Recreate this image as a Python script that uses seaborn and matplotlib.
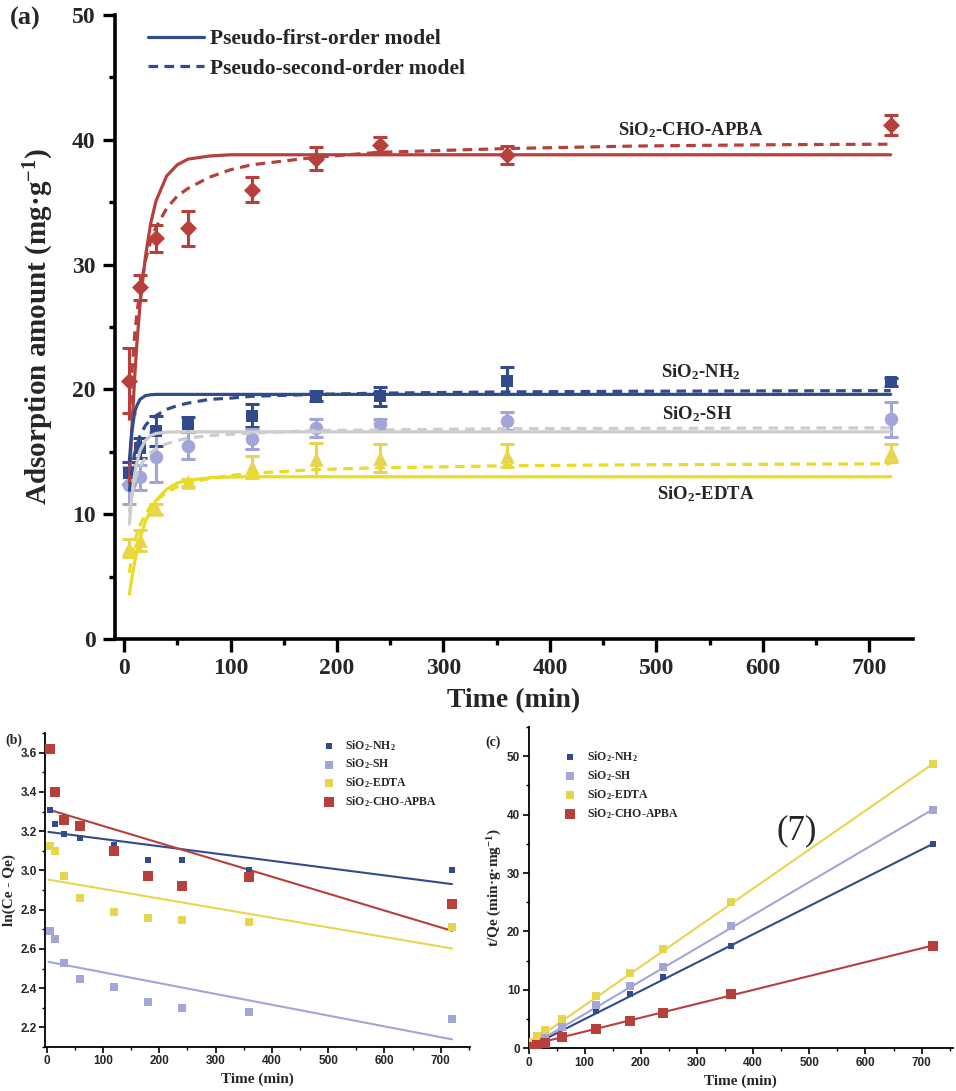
import pandas as pd
import seaborn as sns
import matplotlib.pyplot as plt
from matplotlib.lines import Line2D
from matplotlib.ticker import MultipleLocator

# ---------------- (a) adsorption kinetics ----------------
t_exp = [5, 15, 30, 60, 120, 180, 240, 360, 720]
q_nh2 = [13.3, 15.3, 16.7, 17.2, 17.9, 19.5, 19.45, 20.7, 20.6]
e_nh2 = [0.9, 0.8, 1.2, 0.6, 0.9, 0.4, 0.75, 1.1, 0.3]
q_sh = [12.3, 12.95, 14.6, 15.5, 16.0, 16.9, 17.2, 17.45, 17.6]
e_sh = [1.5, 1.0, 2.0, 1.1, 0.8, 0.7, 0.45, 0.7, 1.4]
q_edta = [7.3, 7.9, 10.4, 12.55, 13.8, 14.4, 14.5, 14.7, 14.9]
e_edta = [0.7, 0.85, 0.4, 0.3, 0.9, 1.3, 1.15, 0.9, 0.75]
q_apba = [20.7, 28.2, 32.1, 32.9, 36.0, 38.5, 39.6, 38.8, 41.2]
e_apba = [2.6, 1.0, 1.1, 1.4, 1.0, 0.9, 0.6, 0.7, 0.8]

# model curves
t_fit = [5, 7, 10, 12, 15, 20, 25, 30, 40, 50, 60, 80, 100, 120, 180, 240, 360, 480, 600, 720]
pfo_apba = [12.5, 16.3, 21.0, 23.6, 26.8, 30.6, 33.3, 35.1, 37.1, 38.0, 38.45, 38.7, 38.8, 38.8,
            38.8, 38.8, 38.8, 38.8, 38.8, 38.8]
pso_apba = [17.5, 20.9, 24.4, 26.0, 28.0, 30.3, 31.9, 33.0, 34.5, 35.5, 36.1, 37.0, 37.6, 38.0,
            38.6, 39.0, 39.3, 39.5, 39.6, 39.65]
pfo_nh2 = [14.3, 16.4, 18.2, 18.7, 19.2, 19.5, 19.57, 19.6, 19.6, 19.6, 19.6, 19.6, 19.6, 19.6,
           19.6, 19.6, 19.6, 19.6, 19.6, 19.6]
pso_nh2 = [11.8, 13.4, 14.9, 15.5, 16.3, 17.1, 17.6, 17.9, 18.4, 18.7, 18.9, 19.2, 19.3, 19.45,
           19.6, 19.7, 19.8, 19.85, 19.88, 19.9]
pfo_sh = [9.2, 11.2, 13.25, 14.1, 15.1, 15.9, 16.3, 16.47, 16.57, 16.6, 16.6, 16.6, 16.6, 16.6,
          16.6, 16.6, 16.6, 16.6, 16.6, 16.6]
pso_sh = [10.1, 11.4, 12.65, 13.2, 13.8, 14.5, 14.95, 15.25, 15.65, 15.9, 16.1, 16.3, 16.4, 16.5,
          16.7, 16.75, 16.85, 16.88, 16.9, 16.92]
pfo_edta = [3.6, 4.7, 6.15, 7.0, 8.0, 9.4, 10.3, 11.1, 12.0, 12.5, 12.7, 12.92, 12.98, 13.0,
            13.0, 13.0, 13.0, 13.0, 13.0, 13.0]
pso_edta = [5.3, 6.5, 7.75, 8.4, 9.1, 10.0, 10.65, 11.1, 11.75, 12.2, 12.47, 12.86, 13.1, 13.28,
            13.57, 13.72, 13.88, 13.96, 14.0, 14.04]

# ---------------- (b) pseudo-first-order linear fit ----------------
t_lin = [5, 15, 30, 60, 120, 180, 240, 360, 720]
ln_nh2 = [3.31, 3.235, 3.184, 3.167, 3.128, 3.052, 3.052, 3.0, 3.0]
ln_sh = [2.692, 2.648, 2.529, 2.449, 2.404, 2.327, 2.298, 2.276, 2.244]
ln_edta = [3.125, 3.098, 2.970, 2.860, 2.789, 2.758, 2.746, 2.735, 2.712]
ln_apba = [3.620, 3.400, 3.259, 3.227, 3.098, 2.970, 2.921, 2.967, 2.828]
t_line = [3, 720]
ln_fit_nh2 = [3.196, 2.930]
ln_fit_sh = [2.534, 2.139]
ln_fit_edta = [2.953, 2.602]
ln_fit_apba = [3.310, 2.692]

# ---------------- (c) pseudo-second-order linear fit ----------------
tq_nh2 = [0.4, 1.0, 1.8, 3.43, 6.46, 9.26, 12.29, 17.54, 34.97]
tq_sh = [0.7, 1.4, 2.3, 3.7, 7.43, 10.7, 14.0, 20.86, 40.86]
tq_edta = [1.14, 2.1, 3.1, 5.0, 8.97, 12.97, 16.97, 24.97, 48.7]
tq_apba = [0.3, 0.57, 0.97, 1.89, 3.26, 4.69, 6.11, 9.31, 17.54]
t_line_c = [5, 720]
tq_fit_nh2 = [0.4, 35.0]
tq_fit_sh = [0.5, 40.9]
tq_fit_edta = [1.0, 48.7]
tq_fit_apba = [0.6, 17.6]

names = ["SiO$_2$-NH$_2$", "SiO$_2$-SH", "SiO$_2$-EDTA", "SiO$_2$-CHO-APBA"]

sns.set_theme(style="ticks")
plt.rcParams["font.family"] = ["Liberation Serif", "DejaVu Serif"]
plt.rcParams["font.weight"] = "bold"
plt.rcParams["axes.labelweight"] = "bold"
plt.rcParams["mathtext.fontset"] = "custom"
plt.rcParams["mathtext.rm"] = "Liberation Serif:bold"
plt.rcParams["mathtext.it"] = "Liberation Serif:italic:bold"
plt.rcParams["mathtext.bf"] = "Liberation Serif:bold"

BLUE, PURPLE, YELLOW, RED = "#314B8C", "#A2A5D8", "#E8D54E", "#B8403C"
GREY, YLINE = "#CDCDCD", "#EADB24"

fig = plt.figure(figsize=(9.56, 10.91), dpi=100)

# ======================= panel (a) =======================
ax = fig.add_axes([115 / 956, 1 - 639 / 1091, 798 / 956, 624 / 1091])

series = [
    (q_nh2, e_nh2, BLUE, "s", 70),
    (q_sh, e_sh, PURPLE, "o", 95),
    (q_edta, e_edta, YELLOW, "^", 110),
    (q_apba, e_apba, RED, "D", 75),
]
for q, e, c, m, s in series:
    ax.errorbar(t_exp, q, yerr=e, fmt="none", ecolor=c, elinewidth=2.2,
                capsize=5, capthick=2.2, zorder=2)
    sns.scatterplot(x=t_exp, y=q, color=c, marker=m, s=s, linewidth=0, ax=ax,
                    zorder=3, legend=False)

fits = [
    (pfo_apba, pso_apba, RED),
    (pfo_nh2, pso_nh2, BLUE),
    (pfo_sh, pso_sh, GREY),
    (pfo_edta, pso_edta, YLINE),
]
for pfo, pso, c in fits:
    sns.lineplot(x=t_fit, y=pfo, color=c, lw=2.3, ax=ax, zorder=4, legend=False)
    sns.lineplot(x=t_fit, y=pso, color=c, lw=2.3, ax=ax, zorder=4, legend=False,
                 linestyle=(0, (3, 2)))

ax.set_xlim(-8.5, 741)
ax.set_ylim(0, 50)
ax.xaxis.set_major_locator(MultipleLocator(100))
ax.xaxis.set_minor_locator(MultipleLocator(50))
ax.yaxis.set_major_locator(MultipleLocator(10))
ax.yaxis.set_minor_locator(MultipleLocator(5))
ax.tick_params(which="major", length=9, width=2.4, labelsize=17, pad=5, color="black")
ax.tick_params(which="minor", length=4.5, width=2.4, color="black")
for side in ["top", "right"]:
    ax.spines[side].set_visible(False)
for side in ["left", "bottom"]:
    ax.spines[side].set_linewidth(2.6)
    ax.spines[side].set_color("black")
ax.set_xlabel("Time (min)", fontsize=20)
ax.set_ylabel("Adsorption amount (mg·g$^{-1}$)", fontsize=21)
ax.yaxis.set_label_coords(-0.074, 0.5)
ax.xaxis.set_label_coords(0.5, -0.079)

ax.text(532, 40.8, names[3], fontsize=13.5, ha="center", va="center")
ax.text(542, 21.35, names[0], fontsize=13.5, ha="center", va="center")
ax.text(538, 18.05, names[1], fontsize=13.5, ha="center", va="center")
ax.text(546, 11.6, names[2], fontsize=13.5, ha="center", va="center")

handles = [Line2D([], [], color=BLUE, lw=2.3),
           Line2D([], [], color=BLUE, lw=2.3, linestyle=(0, (3, 2)))]
ax.legend(handles, ["Pseudo-first-order model", "Pseudo-second-order model"],
          loc="upper left", bbox_to_anchor=(0.041, 0.977), frameon=False,
          fontsize=15.5, handlelength=2.6, handletextpad=0.3, labelspacing=0.44,
          borderpad=0, borderaxespad=0)
fig.text(10 / 956, 1 - 18 / 1091, "(a)", fontsize=19, va="center", ha="left")


def style_small(a):
    for side in ["top", "right"]:
        a.spines[side].set_visible(False)
    for side in ["left", "bottom"]:
        a.spines[side].set_linewidth(1.3)
        a.spines[side].set_color("black")
    a.tick_params(which="major", length=4, width=1.2, labelsize=8.5, pad=2, color="black")
    a.tick_params(which="minor", length=2.2, width=1.0, color="black")
    for lab in a.get_xticklabels() + a.get_yticklabels():
        lab.set_fontfamily("Liberation Sans")
        lab.set_fontweight("bold")


colors = [BLUE, PURPLE, YELLOW, RED]
sizes = [22, 30, 38, 48]

# ======================= panel (b) =======================
axb = fig.add_axes([45 / 956, 1 - 1047 / 1091, 425 / 956, 314 / 1091])
for ys, fy, c, s, n in zip([ln_nh2, ln_sh, ln_edta, ln_apba],
                           [ln_fit_nh2, ln_fit_sh, ln_fit_edta, ln_fit_apba],
                           colors, sizes, names):
    sns.lineplot(x=t_line, y=fy, color=c, lw=1.5, ax=axb, legend=False, zorder=2)
    sns.scatterplot(x=t_lin, y=ys, color=c, marker="s", s=s, linewidth=0, ax=axb,
                    label=n, zorder=3)
axb.set_xlim(-3, 752)
axb.set_ylim(2.1, 3.7)
axb.xaxis.set_major_locator(MultipleLocator(100))
axb.xaxis.set_minor_locator(MultipleLocator(50))
axb.yaxis.set_major_locator(MultipleLocator(0.2))
axb.yaxis.set_minor_locator(MultipleLocator(0.1))
axb.yaxis.set_major_formatter(plt.FormatStrFormatter("%.1f"))
style_small(axb)
axb.set_xlabel("Time (min)", fontsize=11, labelpad=4)
axb.set_ylabel("ln(Ce - Qe)", fontsize=11, labelpad=3)
axb.legend(loc="upper left", bbox_to_anchor=(0.64, 0.985), frameon=False, fontsize=8.5,
           handletextpad=0.4, labelspacing=0.35, borderpad=0, borderaxespad=0)
fig.text(5 / 956, 1 - 740 / 1091, "(b)", fontsize=10, va="center", ha="left")

# ======================= panel (c) =======================
axc = fig.add_axes([528.5 / 956, 1 - 1048.3 / 1091, 424 / 956, 321.3 / 1091])
for ys, fy, c, s, n in zip([tq_nh2, tq_sh, tq_edta, tq_apba],
                           [tq_fit_nh2, tq_fit_sh, tq_fit_edta, tq_fit_apba],
                           colors, sizes, names):
    sns.lineplot(x=t_line_c, y=fy, color=c, lw=1.5, ax=axc, legend=False, zorder=2)
    sns.scatterplot(x=t_lin, y=ys, color=c, marker="s", s=s, linewidth=0, ax=axc,
                    label=n, zorder=3)
axc.set_xlim(0, 755)
axc.set_ylim(0, 55)
axc.xaxis.set_major_locator(MultipleLocator(100))
axc.xaxis.set_minor_locator(MultipleLocator(50))
axc.yaxis.set_major_locator(MultipleLocator(10))
axc.yaxis.set_minor_locator(MultipleLocator(5))
style_small(axc)
axc.set_xlabel("Time (min)", fontsize=11, labelpad=4)
axc.set_ylabel("t/Qe (min·g·mg$^{-1}$)", fontsize=11, labelpad=2)
axc.legend(loc="upper left", bbox_to_anchor=(0.07, 0.93), frameon=False, fontsize=8.5,
           handletextpad=0.4, labelspacing=0.35, borderpad=0, borderaxespad=0)
axc.text(477, 37.2, "(7)", fontsize=25, fontweight="normal", ha="center", va="center")
fig.text(485 / 956, 1 - 742 / 1091, "(c)", fontsize=10, va="center", ha="left")

fig.savefig("out.png", dpi=100)
